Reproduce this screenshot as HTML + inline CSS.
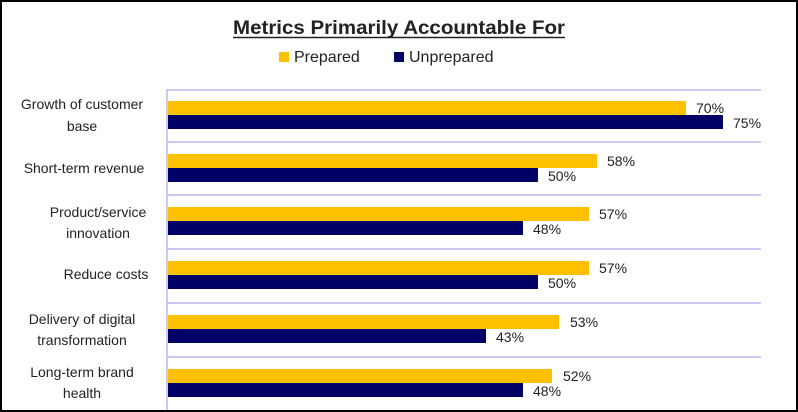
<!DOCTYPE html>
<html><head><meta charset="utf-8"><style>
html,body{margin:0;padding:0;background:#fff}
svg{display:block}
text{font-family:"Liberation Sans",sans-serif;fill:#222}
</style></head><body>
<svg width="798" height="412" viewBox="0 0 798 412">
<rect x="1" y="1" width="796" height="410" fill="#fff" stroke="#000" stroke-width="2"/>
<text x="399" y="34" text-anchor="middle" font-size="19" font-weight="bold" textLength="332" lengthAdjust="spacingAndGlyphs">Metrics Primarily Accountable For</text>
<line x1="233" y1="37.5" x2="565" y2="37.5" stroke="#222" stroke-width="1.5"/>
<rect x="279" y="52" width="10" height="10" fill="#FFC000"/>
<text x="294" y="62" font-size="16">Prepared</text>
<rect x="394" y="52" width="10" height="10" fill="#000066"/>
<text x="409" y="62" font-size="16">Unprepared</text>
<g stroke="#b8b8ee" stroke-width="1.5">
<line x1="167" y1="89" x2="167" y2="410"/>
<line x1="167" y1="90" x2="761" y2="90"/>
<line x1="167" y1="142" x2="761" y2="142"/>
<line x1="167" y1="195" x2="761" y2="195"/>
<line x1="167" y1="249" x2="761" y2="249"/>
<line x1="167" y1="303" x2="761" y2="303"/>
<line x1="167" y1="357" x2="761" y2="357"/>
</g>
<g font-size="14">
<rect x="168" y="101" width="518" height="14" fill="#FFC000"/>
<rect x="168" y="115" width="555" height="14" fill="#000066"/>
<text x="696" y="113">70%</text><text x="733" y="128">75%</text>
<rect x="168" y="154" width="429" height="14" fill="#FFC000"/>
<rect x="168" y="168" width="370" height="14" fill="#000066"/>
<text x="607" y="166">58%</text><text x="548" y="181">50%</text>
<rect x="168" y="207" width="421" height="14" fill="#FFC000"/>
<rect x="168" y="221" width="355" height="14" fill="#000066"/>
<text x="599" y="219">57%</text><text x="533" y="234">48%</text>
<rect x="168" y="261" width="421" height="14" fill="#FFC000"/>
<rect x="168" y="275" width="370" height="14" fill="#000066"/>
<text x="599" y="273">57%</text><text x="548" y="288">50%</text>
<rect x="168" y="315" width="391" height="14" fill="#FFC000"/>
<rect x="168" y="329" width="318" height="14" fill="#000066"/>
<text x="570" y="327">53%</text><text x="496" y="342">43%</text>
<rect x="168" y="369" width="384" height="14" fill="#FFC000"/>
<rect x="168" y="383" width="355" height="14" fill="#000066"/>
<text x="563" y="381">52%</text><text x="533" y="396">48%</text>
</g>
<g font-size="14" text-anchor="middle">
<text x="82" y="109">Growth of customer</text><text x="82" y="131">base</text>
<text x="84" y="173">Short-term revenue</text>
<text x="98" y="217">Product/service</text><text x="98" y="238">innovation</text>
<text x="106" y="279">Reduce costs</text>
<text x="82" y="324">Delivery of digital</text><text x="82" y="345">transformation</text>
<text x="82" y="377">Long-term brand</text><text x="82" y="398">health</text>
</g>
</svg>
</body></html>
